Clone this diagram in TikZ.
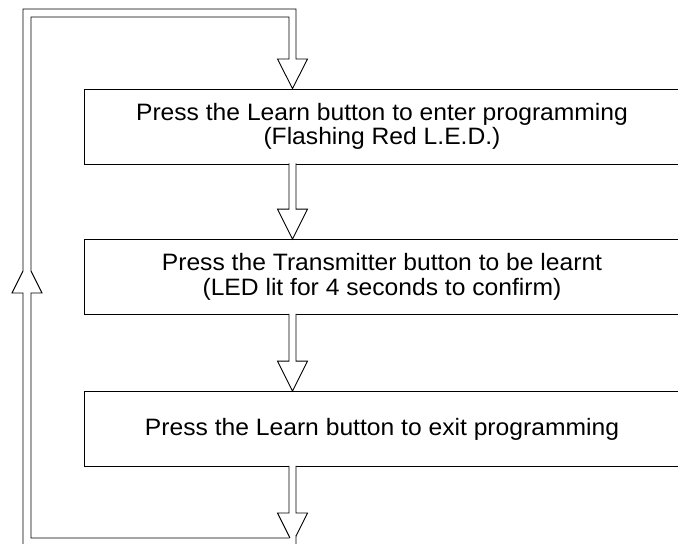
\documentclass[tikz,border=0pt]{standalone}
\usepackage{fontspec}
\setmainfont{Liberation Sans}[FakeStretch=1.04]
\usetikzlibrary{calc}
\tikzset{
  stepbox/.style={draw, line width=0.9pt, minimum width=596pt, minimum height=75pt,
    inner sep=0pt, align=center, font=\fontsize{23.7pt}{24.5pt}\selectfont},
  blockline/.style={draw, fill=white, line width=0.9pt, line join=miter},
}
% hollow block arrow from the bottom of one node down to a target point
\newcommand\blockarrow[2]{%
  \path[blockline] let \p1=(#1.south -| axis), \p2=(#2 -| axis) in
    (\x1-3.5pt,\y1+1pt) -- (\x1-3.5pt,\y2+30pt) -- (\x1-15pt,\y2+30pt) -- (\x2,\y2)
    -- (\x1+15pt,\y2+30pt) -- (\x1+3.5pt,\y2+30pt) -- (\x1+3.5pt,\y1+1pt);
}

\begin{document}
\begin{tikzpicture}[x=1pt,y=-1pt]
\useasboundingbox (0,0) rectangle (678,544);
\clip (0,0) rectangle (678,544);
\coordinate (axis) at (292.5,0);
\coordinate (loopend) at (292.5,543);

\node[stepbox] (learn) at (382,126.5) {Press the Learn button to enter programming\\(Flashing Red L.E.D.)};
\node[stepbox] (transmit) at (382,277) {Press the Transmitter button to be learnt\\(LED lit for 4 seconds to confirm)};
\node[stepbox] (exit) at (382,429) {Press the Learn button to exit programming};

\blockarrow{learn}{transmit.north}
\blockarrow{transmit}{exit.north}
\blockarrow{exit}{loopend}

% return loop back to the first step
\path[blockline] let \p1=(learn.north -| axis) in
  (296,535) -- (296,550) -- (23,550) -- (23,293) -- (12,293) -- (23,271)
  -- (23,9) -- (296,9) -- (296,59) -- (307.5,59) -- (\x1,\y1) -- (277.5,59)
  -- (289,59) -- (289,17) -- (31,17) -- (31,271) -- (42,293) -- (31,293)
  -- (31,538) -- (289.5,538);
\end{tikzpicture}
\end{document}
